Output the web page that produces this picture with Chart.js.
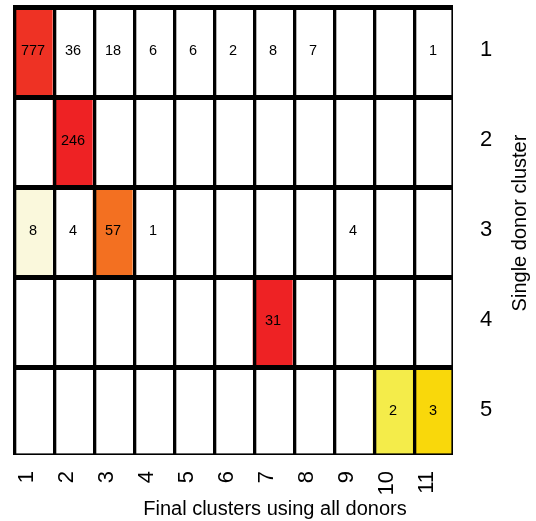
<!DOCTYPE html>
<html>
<head>
<meta charset="utf-8">
<title>Single donor clusters vs final clusters</title>
<script src="https://cdn.jsdelivr.net/npm/chart.js@4/dist/chart.umd.min.js"></script>
<style>
  html, body { margin: 0; padding: 0; background: #ffffff; }
  #wrap { width: 536px; height: 521px; }
  canvas { display: block; }
</style>
</head>
<body>
<div id="wrap"><canvas id="grid" width="536" height="521"></canvas></div>
<script>
// Column and row categories
const finalClusters = ['1', '2', '3', '4', '5', '6', '7', '8', '9', '10', '11'];
const donorClusters = ['1', '2', '3', '4', '5'];

// Cell counts for each single donor cluster across the final clusters (null = empty cell)
const cluster1Counts = [777, 36, 18, 6, 6, 2, 8, 7, null, null, 1];
const cluster2Counts = [null, 246, null, null, null, null, null, null, null, null, null];
const cluster3Counts = [8, 4, 57, 1, null, null, null, null, 4, null, null];
const cluster4Counts = [null, null, null, null, null, null, 31, null, null, null, null];
const cluster5Counts = [null, null, null, null, null, null, null, null, null, 2, 3];
const countRows = [cluster1Counts, cluster2Counts, cluster3Counts, cluster4Counts, cluster5Counts];

const xTitle = 'Final clusters using all donors';
const yTitle = 'Single donor cluster';

// Fill colours of the shaded cells, keyed "row,column"; all other cells are white
const shade = {
  '1,1': '#EE3224',
  '2,2': '#EE2224',
  '3,1': '#FAF8DC',
  '3,3': '#F37021',
  '4,7': '#EE2224',
  '5,10': '#F4EC4A',
  '5,11': '#F9D80B'
};

const FONT = '"Liberation Sans", Arial, Helvetica, sans-serif';
Chart.defaults.font.family = FONT;
Chart.defaults.color = '#000000';

// One floating-bar dataset per row: each bar spans its row band [r - 0.5, r + 0.5]
const datasets = donorClusters.map((label, r) => ({
  label: 'Cluster ' + label,
  data: finalClusters.map(() => [r + 1 - 0.5, r + 1 + 0.5]),
  backgroundColor: (ctx) => shade[(r + 1) + ',' + (ctx.dataIndex + 1)] || '#FFFFFF',
  borderWidth: 0,
  grouped: false,
  barPercentage: 1,
  categoryPercentage: 1
}));

// Black rules: heavy line on the top of every row, vertical line on the left of every column,
// thin lines closing the right and bottom edges
const cellRules = {
  id: 'cellRules',
  afterDatasetsDraw(chart) {
    const { ctx, chartArea: { left, right, top, bottom }, scales: { x, y } } = chart;
    ctx.save();
    ctx.fillStyle = '#000000';
    finalClusters.forEach((_, i) => {
      const px = x.getPixelForValue(i - 0.5);
      ctx.fillRect(px, top, 3.3, bottom - top);
    });
    donorClusters.forEach((_, r) => {
      const py = y.getPixelForValue(r + 1 - 0.5);
      ctx.fillRect(left, py, right - left, 5);
    });
    ctx.fillRect(right - 1.6, top, 1.6, bottom - top);
    ctx.fillRect(left, bottom - 1.6, right - left, 1.6);
    ctx.restore();
  }
};

// Count written in the middle of every non-empty cell
const cellCounts = {
  id: 'cellCounts',
  afterDatasetsDraw(chart) {
    const { ctx } = chart;
    ctx.save();
    ctx.font = '14.5px ' + FONT;
    ctx.fillStyle = '#000000';
    ctx.textAlign = 'center';
    ctx.textBaseline = 'middle';
    countRows.forEach((row, r) => {
      const meta = chart.getDatasetMeta(r);
      meta.data.forEach((bar, j) => {
        const v = row[j];
        if (v === null || v === undefined) return;
        const c = bar.getCenterPoint();
        ctx.fillText(String(v), c.x, c.y + 1);
      });
    });
    ctx.restore();
  }
};

// Axis captions: horizontal one under the ticks, vertical one reading upwards on the right
const axisCaptions = {
  id: 'axisCaptions',
  afterDraw(chart) {
    const { ctx } = chart;
    ctx.save();
    ctx.font = '20px ' + FONT;
    ctx.fillStyle = '#000000';
    ctx.textAlign = 'center';
    ctx.textBaseline = 'alphabetic';
    ctx.fillText(xTitle, 275, 515);
    ctx.translate(526, 223);
    ctx.rotate(-Math.PI / 2);
    ctx.fillText(yTitle, 0, 0);
    ctx.restore();
  }
};

new Chart(document.getElementById('grid'), {
  type: 'bar',
  data: { labels: finalClusters, datasets },
  options: {
    responsive: false,
    animation: false,
    devicePixelRatio: 1,
    layout: { padding: { left: 13, top: 5, right: 0, bottom: 0 } },
    plugins: {
      legend: { display: false },
      tooltip: { enabled: false },
      title: { display: false }
    },
    scales: {
      x: {
        type: 'category',
        offset: true,
        grid: { display: false, drawTicks: false },
        border: { display: false },
        ticks: {
          font: { size: 22 },
          color: '#000000',
          minRotation: 90,
          maxRotation: 90,
          autoSkip: false,
          padding: 16,
          labelOffset: -6
        },
        afterFit(scale) {
          scale.height = 66;
          scale.paddingLeft = 0;
          scale.paddingRight = 0;
        }
      },
      y: {
        type: 'linear',
        position: 'right',
        reverse: true,
        min: 0.5,
        max: 5.5,
        grid: { display: false, drawTicks: false },
        border: { display: false },
        afterBuildTicks(scale) {
          scale.ticks = donorClusters.map((_, i) => ({ value: i + 1 }));
        },
        ticks: {
          font: { size: 22 },
          color: '#000000',
          padding: 27,
          callback: (value) => donorClusters[value - 1]
        },
        afterFit(scale) {
          scale.width = 83;
          scale.paddingTop = 0;
          scale.paddingBottom = 0;
        }
      }
    }
  },
  plugins: [cellRules, cellCounts, axisCaptions]
});
</script>
</body>
</html>
